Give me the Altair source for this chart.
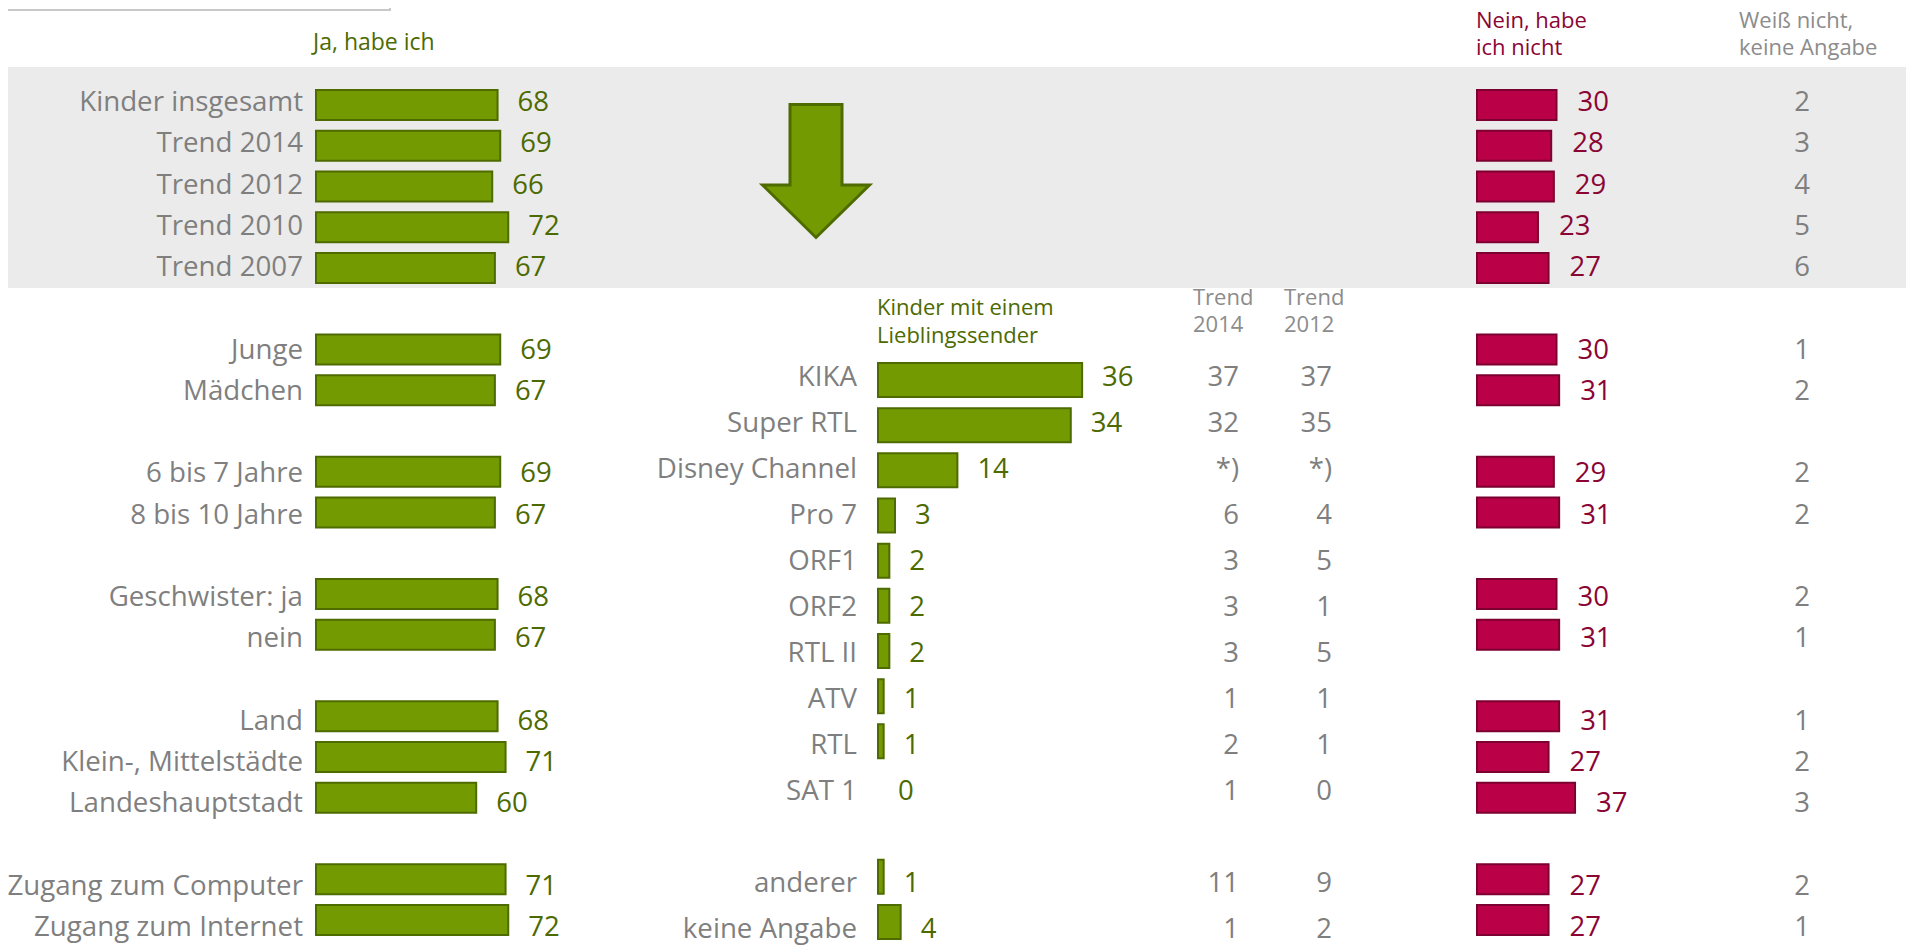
import altair as alt
import pandas as pd

# ---------------- data ----------------
left_labels = ["Kinder insgesamt", "Trend 2014", "Trend 2012", "Trend 2010", "Trend 2007",
               "Junge", "Mädchen", "6 bis 7 Jahre", "8 bis 10 Jahre",
               "Geschwister: ja", "nein", "Land", "Klein-, Mittelstädte", "Landeshauptstadt",
               "Zugang zum Computer", "Zugang zum Internet"]
left_rows = [0, 1, 2, 3, 4, 6, 7, 9, 10, 12, 13, 15, 16, 17, 19, 20]
ja_values = [68, 69, 66, 72, 67, 69, 67, 69, 67, 68, 67, 68, 71, 60, 71, 72]
nein_values = [30, 28, 29, 23, 27, 30, 31, 29, 31, 30, 31, 31, 27, 37, 27, 27]
weiss_values = [2, 3, 4, 5, 6, 1, 2, 2, 2, 2, 1, 1, 2, 3, 2, 1]

sender_labels = ["KIKA", "Super RTL", "Disney Channel", "Pro 7", "ORF1", "ORF2", "RTL II",
                 "ATV", "RTL", "SAT 1", "anderer", "keine Angabe"]
sender_rows = [0, 1, 2, 3, 4, 5, 6, 7, 8, 9, 11, 12]
sender_values = [36, 34, 14, 3, 2, 2, 2, 1, 1, 0, 1, 4]
trend2014 = ["37", "32", "*)", "6", "3", "3", "3", "1", "2", "1", "11", "1"]
trend2012 = ["37", "35", "*)", "4", "5", "1", "5", "1", "1", "0", "9", "2"]

left_df = pd.DataFrame({"row": left_rows, "label": left_labels, "ja": ja_values,
                        "nein": nein_values, "weiss": weiss_values})
mid_df = pd.DataFrame({"row": sender_rows, "label": sender_labels, "value": sender_values,
                       "t2014": trend2014, "t2012": trend2012})
one = pd.DataFrame({"a": [0]})

# ---------------- style ----------------
W, H = 1898, 943
FONT = "Open Sans"
GRAY = "#7f7f7f"
HGRAY = "#8c8c8c"
GREEN = "#739a00"
GREEN_DARK = "#4e6b00"
GREEN_TEXT = "#4d6a00"
RED = "#ba0046"
RED_DARK = "#7c0030"
RED_TEXT = "#8a0534"
BAND = "#ebebeb"
LSIZE = 27.7
NSIZE = 27.5
DY = 3

left_y = alt.Y("row:Q", scale=alt.Scale(domain=[0, 20], range=[92, 917], nice=False, zero=False), axis=None)
mid_y = alt.Y("row:Q", scale=alt.Scale(domain=[0, 12], range=[367, 919], nice=False, zero=False), axis=None)


def jx(field):
    return alt.X(field, scale=alt.Scale(domain=[0, 100], range=[308, 575], nice=False), axis=None)


def nx(field):
    return alt.X(field, scale=alt.Scale(domain=[0, 100], range=[1469, 1734], nice=False), axis=None)


def mx(field):
    return alt.X(field, scale=alt.Scale(domain=[0, 100], range=[870, 1437], nice=False), axis=None)


def header(txt, x, y, color, size=22):
    return alt.Chart(one).mark_text(text=txt, align="left", baseline="middle", font=FONT,
                                    fontSize=size, color=color).encode(x=alt.value(x), y=alt.value(y))


layers = []

# background band and top-left box
layers.append(alt.Chart(one).mark_rect(color=BAND).encode(
    x=alt.value(0), x2=alt.value(W), y=alt.value(59), y2=alt.value(280)))
layers.append(alt.Chart(one).mark_rect(fill="white", stroke="#c8c8c8", strokeWidth=2).encode(
    x=alt.value(-10), x2=alt.value(382), y=alt.value(-10), y2=alt.value(2)))

# arrow
ARROW = "M -0.391 -1 L 0.391 -1 L 0.391 0.21 L 0.805 0.21 L 0 1 L -0.805 0.21 L -0.391 0.21 Z"
layers.append(alt.Chart(one).mark_point(shape=ARROW, size=17689, filled=True, fill=GREEN,
                                        stroke=GREEN_DARK, strokeWidth=3, opacity=1,
                                        strokeJoin="miter").encode(
    x=alt.value(808), y=alt.value(163)))

base_left = alt.Chart(left_df)
base_mid = alt.Chart(mid_df)

# left "Ja" bars
layers.append(base_left.mark_bar(orient="horizontal", size=30, color=GREEN, stroke=GREEN_DARK,
                                 strokeWidth=2).encode(x=jx("ja:Q"), y=left_y))
layers.append(base_left.mark_text(align="left", baseline="middle", dx=20, dy=DY, font=FONT,
                                  fontSize=NSIZE, color=GREEN_TEXT).encode(
    x=jx("ja:Q"), y=left_y, text=alt.Text("ja:Q")))
layers.append(base_left.transform_calculate(zero="0").mark_text(
    align="right", baseline="middle", dx=-13, dy=DY, font=FONT, fontSize=LSIZE, color=GRAY).encode(
    x=jx("zero:Q"), y=left_y, text="label:N"))

# right "Nein" bars
layers.append(base_left.mark_bar(orient="horizontal", size=30, color=RED, stroke=RED_DARK,
                                 strokeWidth=2).encode(x=nx("nein:Q"), y=left_y))
layers.append(base_left.mark_text(align="left", baseline="middle", dx=21, dy=DY, font=FONT,
                                  fontSize=NSIZE, color=RED_TEXT).encode(
    x=nx("nein:Q"), y=left_y, text=alt.Text("nein:Q")))

# Weiß nicht column
layers.append(base_left.mark_text(align="center", baseline="middle", dy=DY, font=FONT,
                                  fontSize=NSIZE, color=GRAY).encode(
    x=alt.value(1794), y=left_y, text=alt.Text("weiss:Q")))

# middle sender bars
layers.append(base_mid.transform_filter("datum.value > 0").mark_bar(
    orient="horizontal", size=34, color=GREEN, stroke=GREEN_DARK, strokeWidth=2).encode(
    x=mx("value:Q"), y=mid_y))
layers.append(base_mid.mark_text(align="left", baseline="middle", dx=20, dy=DY, font=FONT,
                                 fontSize=NSIZE, color=GREEN_TEXT).encode(
    x=mx("value:Q"), y=mid_y, text=alt.Text("value:Q")))
layers.append(base_mid.transform_calculate(zero="0").mark_text(
    align="right", baseline="middle", dx=-21, dy=DY, font=FONT, fontSize=LSIZE, color=GRAY).encode(
    x=mx("zero:Q"), y=mid_y, text="label:N"))

# trend columns
layers.append(base_mid.mark_text(align="right", baseline="middle", dy=DY, font=FONT,
                                 fontSize=NSIZE, color=GRAY).encode(
    x=alt.value(1231), y=mid_y, text="t2014:N"))
layers.append(base_mid.mark_text(align="right", baseline="middle", dy=DY, font=FONT,
                                 fontSize=NSIZE, color=GRAY).encode(
    x=alt.value(1324), y=mid_y, text="t2012:N"))

# headers
layers.append(header("Ja, habe ich", 305, 35, GREEN_TEXT, 23))
layers.append(header("Nein, habe", 1468, 13, RED_TEXT))
layers.append(header("ich nicht", 1468, 40, RED_TEXT))
layers.append(header("Weiß nicht,", 1731, 13, HGRAY))
layers.append(header("keine Angabe", 1731, 40, HGRAY))
layers.append(header("Kinder mit einem", 869, 300, GREEN_TEXT))
layers.append(header("Lieblingssender", 869, 328, GREEN_TEXT))
layers.append(header("Trend", 1185, 290, HGRAY))
layers.append(header("2014", 1185, 317, HGRAY))
layers.append(header("Trend", 1276, 290, HGRAY))
layers.append(header("2012", 1276, 317, HGRAY))

chart = alt.layer(*layers).resolve_scale(x="independent", y="independent").properties(
    width=W, height=H, autosize=alt.AutoSizeParams(type="none"), padding=0
).configure_view(stroke=None)

chart.save("out.html", embed_options={"renderer": "svg", "actions": False})
